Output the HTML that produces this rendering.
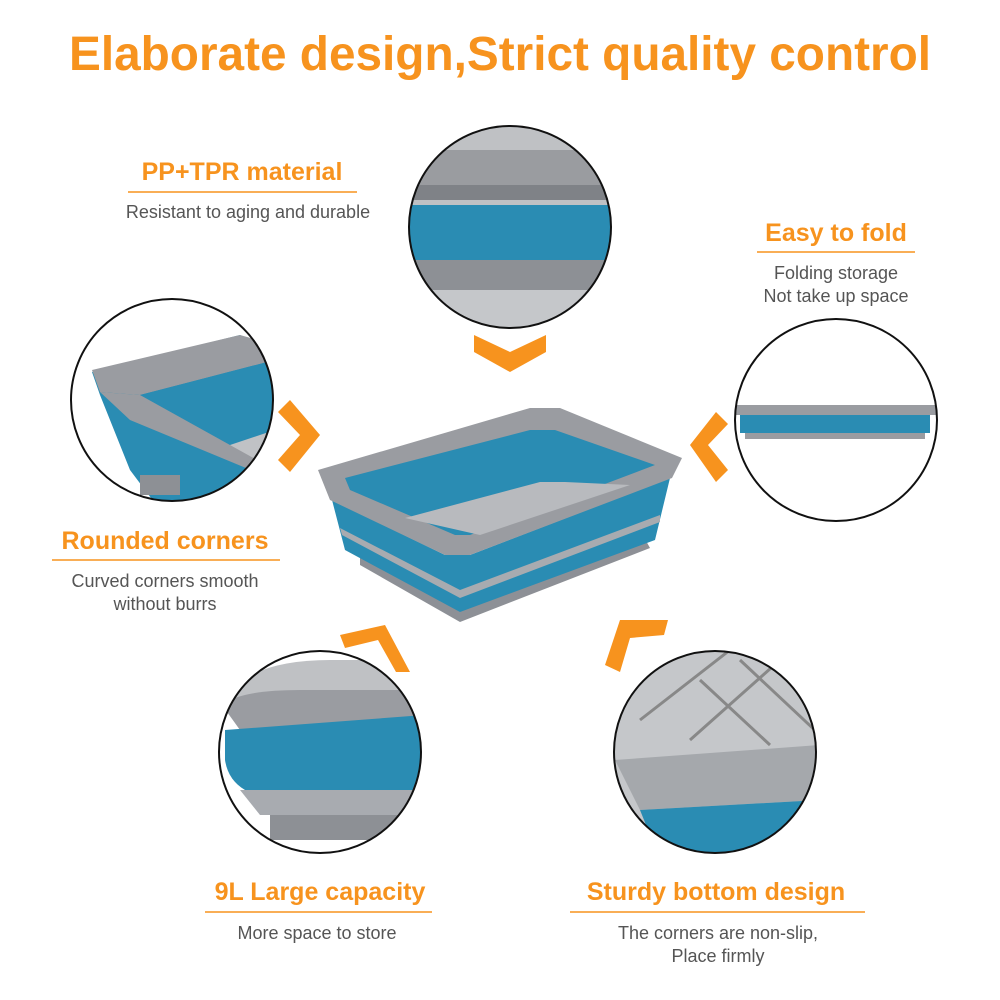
<!DOCTYPE html>
<html><head><meta charset="utf-8"><style>
body{margin:0;background:#fff;}
svg{display:block;}
.t{font-family:"Liberation Sans",sans-serif;font-weight:bold;fill:#f7931e;}
.s{font-family:"Liberation Sans",sans-serif;fill:#555;font-size:18px;}
</style></head><body>
<svg width="1000" height="1000" viewBox="0 0 1000 1000">
<defs>
<clipPath id="c1"><circle cx="510" cy="227" r="101"/></clipPath>
<clipPath id="c2"><circle cx="172" cy="400" r="101"/></clipPath>
<clipPath id="c3"><circle cx="836" cy="420" r="101"/></clipPath>
<clipPath id="c4"><circle cx="320" cy="752" r="101"/></clipPath>
<clipPath id="c5"><circle cx="715" cy="752" r="101"/></clipPath>
</defs>
<text class="t" x="500" y="70" font-size="48" text-anchor="middle" textLength="862" lengthAdjust="spacingAndGlyphs">Elaborate design,Strict quality control</text>

<text class="t" x="242" y="180" font-size="25" text-anchor="middle">PP+TPR material</text>
<line x1="128" y1="192" x2="357" y2="192" stroke="#f7931e" stroke-width="1.5"/>
<text class="s" x="248" y="218" text-anchor="middle">Resistant to aging and durable</text>

<text class="t" x="836" y="241" font-size="25" text-anchor="middle">Easy to fold</text>
<line x1="757" y1="252" x2="915" y2="252" stroke="#f7931e" stroke-width="1.5"/>
<text class="s" x="836" y="279" text-anchor="middle">Folding storage</text>
<text class="s" x="836" y="302" text-anchor="middle">Not take up space</text>

<text class="t" x="165" y="549" font-size="25" text-anchor="middle">Rounded corners</text>
<line x1="52" y1="560" x2="280" y2="560" stroke="#f7931e" stroke-width="1.5"/>
<text class="s" x="165" y="587" text-anchor="middle">Curved corners smooth</text>
<text class="s" x="165" y="610" text-anchor="middle">without burrs</text>

<text class="t" x="320" y="900" font-size="25" text-anchor="middle">9L Large capacity</text>
<line x1="205" y1="912" x2="432" y2="912" stroke="#f7931e" stroke-width="1.5"/>
<text class="s" x="317" y="939" text-anchor="middle">More space to store</text>

<text class="t" x="716" y="900" font-size="25" text-anchor="middle">Sturdy bottom design</text>
<line x1="570" y1="912" x2="865" y2="912" stroke="#f7931e" stroke-width="1.5"/>
<text class="s" x="718" y="939" text-anchor="middle">The corners are non-slip,</text>
<text class="s" x="718" y="962" text-anchor="middle">Place firmly</text>

<g fill="#f7931e">
<polygon points="474,335 510,352 546,335 546,352 510,372 474,352"/>
<polygon points="290,400 320,435 290,472 278,460 300,435 278,412"/>
<polygon points="716,412 690,445 716,482 728,470 708,445 728,424"/>
<polygon points="340,635 385,625 410,672 396,672 378,640 345,648"/>
<polygon points="605,665 620,620 668,620 664,635 630,638 620,672"/>
</g>

<g>
<polygon points="360,565 460,622 650,548 640,530 460,600 360,545" fill="#8d9096"/>
<polygon points="332,500 345,550 460,612 655,540 670,478 470,555 445,555" fill="#2a8cb3"/>
<polygon points="340,528 460,590 660,515 660,522 460,598 342,535" fill="#a8abb0"/>
<polygon points="318,470 530,408 560,408 682,458 672,478 470,555 445,555 330,500" fill="#9a9ca1"/>
<polygon points="345,478 530,430 555,430 655,465 470,535 455,535 350,490" fill="#2a8cb3"/>
<polygon points="405,518 540,482 565,482 630,485 480,535" fill="#b8babe"/>
</g>

<g clip-path="url(#c1)">
<rect x="400" y="120" width="220" height="220" fill="#bfc1c4"/>
<rect x="400" y="150" width="220" height="35" fill="#9a9ca0"/>
<rect x="400" y="185" width="220" height="15" fill="#7f8287"/>
<rect x="400" y="205" width="220" height="55" fill="#2a8cb3"/>
<rect x="400" y="260" width="220" height="30" fill="#8d9095"/>
<rect x="400" y="290" width="220" height="50" fill="#c5c7ca"/>
</g>
<circle cx="510" cy="227" r="101" fill="none" stroke="#111" stroke-width="2"/>

<g clip-path="url(#c2)">
<rect x="60" y="290" width="230" height="230" fill="#fff"/>
<polygon points="92,372 240,335 275,350 275,510 160,510 130,470 100,395" fill="#2a8cb3"/>
<polygon points="92,370 240,335 275,345 275,360 140,395 100,392" fill="#9a9ca1"/>
<polygon points="140,395 275,360 275,430 230,445" fill="#2a8cb3"/>
<polygon points="230,445 275,430 275,470 250,470" fill="#c0c2c5"/>
<polygon points="100,392 140,395 230,445 275,470 275,480 130,420" fill="#9a9ca1"/>
<rect x="140" y="475" width="40" height="20" fill="#8d9095"/>
</g>
<circle cx="172" cy="400" r="101" fill="none" stroke="#111" stroke-width="2"/>

<g clip-path="url(#c3)">
<rect x="730" y="405" width="210" height="10" fill="#9a9ca1"/>
<rect x="740" y="415" width="190" height="18" fill="#2a8cb3"/>
<rect x="745" y="433" width="180" height="6" fill="#9a9ca1"/>
</g>
<circle cx="836" cy="420" r="101" fill="none" stroke="#111" stroke-width="2"/>

<g clip-path="url(#c4)">
<rect x="215" y="650" width="210" height="210" fill="#fff"/>
<path d="M230 690 Q260 660 330 660 L425 660 L425 700 L240 710 Z" fill="#bfc1c4"/>
<path d="M222 705 Q240 690 300 690 L425 690 L425 720 L240 730 Z" fill="#9a9ca1"/>
<path d="M225 730 L425 715 L425 790 L245 790 Q228 780 225 760 Z" fill="#2a8cb3"/>
<path d="M240 790 L425 790 L425 815 L260 815 Z" fill="#a8abb0"/>
<rect x="270" y="815" width="155" height="25" fill="#8d9095"/>
</g>
<circle cx="320" cy="752" r="101" fill="none" stroke="#111" stroke-width="2"/>

<g clip-path="url(#c5)">
<rect x="610" y="650" width="210" height="210" fill="#c5c7ca"/>
<g stroke="#888" stroke-width="3" fill="none">
<line x1="640" y1="720" x2="730" y2="650"/>
<line x1="690" y1="740" x2="780" y2="660"/>
<line x1="700" y1="680" x2="770" y2="745"/>
<line x1="740" y1="660" x2="820" y2="735"/>
</g>
<polygon points="615,760 820,745 820,800 640,810" fill="#a5a8ac"/>
<polygon points="640,810 820,800 820,860 660,860" fill="#2a8cb3"/>
</g>
<circle cx="715" cy="752" r="101" fill="none" stroke="#111" stroke-width="2"/>
</svg>
</body></html>
